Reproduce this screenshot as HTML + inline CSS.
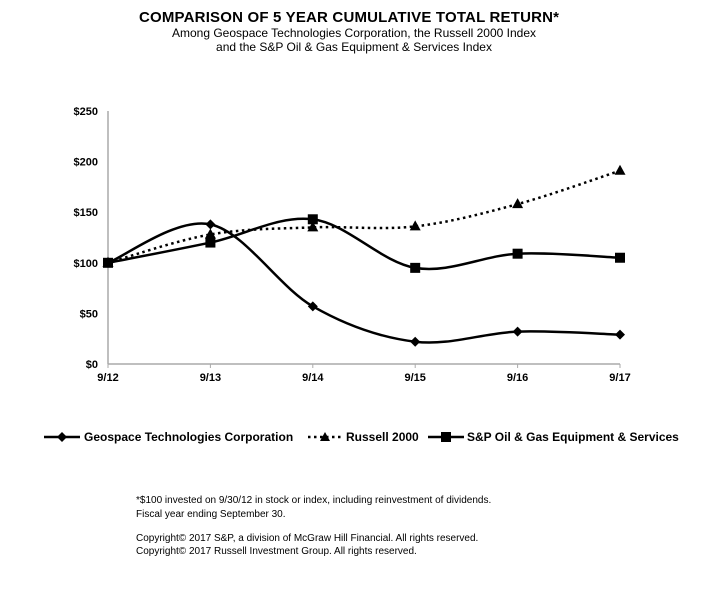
<!DOCTYPE html>
<html><head><meta charset="utf-8"><style>
body{margin:0;background:#fff;width:709px;height:589px;overflow:hidden;font-family:"Liberation Sans",Arial,sans-serif}
svg{position:absolute;left:0;top:0}
</style></head><body>
<svg width="709" height="589" id="c">
<text x="349" y="22" text-anchor="middle" font-size="15" font-weight="bold" textLength="420">COMPARISON OF 5 YEAR CUMULATIVE TOTAL RETURN*</text>
<text x="354" y="37" text-anchor="middle" font-size="12">Among Geospace Technologies Corporation, the Russell 2000 Index</text>
<text x="354" y="51" text-anchor="middle" font-size="12">and the S&amp;P Oil &amp; Gas Equipment &amp; Services Index</text>
<g id="axes"></g><g id="series"></g>
<g font-size="12" font-weight="bold">
<g>
<line x1="44" y1="437" x2="80" y2="437" stroke="#000" stroke-width="2.5"/><path d="M62 432L67 437L62 442L57 437Z"/>
<text x="84" y="441">Geospace Technologies Corporation</text></g>
<g>
<line x1="308" y1="437" x2="342" y2="437" stroke="#000" stroke-width="2.5" stroke-dasharray="2.5,3.5"/><path d="M325 432L330 441L320 441Z"/>
<text x="346" y="441">Russell 2000</text></g>
<g>
<line x1="428" y1="437" x2="464" y2="437" stroke="#000" stroke-width="2.5"/><rect x="441" y="432" width="10" height="10"/>
<text x="467" y="441">S&amp;P Oil &amp; Gas Equipment &amp; Services</text></g>
</g>
<g font-size="10">
<text x="136" y="503">*$100 invested on 9/30/12 in stock or index, including reinvestment  of dividends.</text>
<text x="136" y="517">Fiscal year ending September 30.</text>
<text x="136" y="541">Copyright© 2017 S&amp;P, a division of McGraw Hill Financial. All rights reserved.</text>
<text x="136" y="554">Copyright© 2017 Russell Investment Group. All rights reserved.</text>
</g>
</svg>
<script>
const categories=["9/12","9/13","9/14","9/15","9/16","9/17"];
const geospace=[100,138,57,22,32,29];
const russell=[100,128,135,136,158,191];
const spOilGas=[100,120,143,95,109,105];
const yTicks=[0,50,100,150,200,250];
const yLabels=["$0","$50","$100","$150","$200","$250"];
const NS="http://www.w3.org/2000/svg";
const X0=108,X1=620,Y0=364,Y1=111;
const xs=i=>X0+(X1-X0)*i/(categories.length-1);
const ys=v=>Y0-(Y0-Y1)*v/250;
function mk(t,a,p){const e=document.createElementNS(NS,t);for(const k in a)e.setAttribute(k,a[k]);p.appendChild(e);return e;}
const ax=document.getElementById('axes');
mk('line',{x1:X0,y1:Y1,x2:X0,y2:Y0,stroke:'#aaa','stroke-width':1.5},ax);
mk('line',{x1:X0,y1:Y0,x2:X1,y2:Y0,stroke:'#aaa','stroke-width':1.5},ax);
yTicks.forEach((v,i)=>{const t=mk('text',{x:X0-10,y:ys(v)+4,'text-anchor':'end','font-size':11,'font-weight':'bold'},ax);t.textContent=yLabels[i];

});
categories.forEach((c,i)=>{mk('line',{x1:xs(i),y1:Y0,x2:xs(i),y2:Y0+4,stroke:'#aaa'},ax);
const t=mk('text',{x:xs(i),y:Y0+17,'text-anchor':'middle','font-size':11,'font-weight':'bold'},ax);t.textContent=c;

});
function smooth(vals){const p=vals.map((v,i)=>[xs(i),ys(v)]);let d=`M${p[0][0]},${p[0][1]}`;
for(let i=0;i<p.length-1;i++){const a=p[Math.max(0,i-1)],b=p[i],c=p[i+1],e=p[Math.min(p.length-1,i+2)];
const c1=[b[0]+(c[0]-a[0])/6,b[1]+(c[1]-a[1])/6],c2=[c[0]-(e[0]-b[0])/6,c[1]-(e[1]-b[1])/6];
d+=`C${c1[0]},${c1[1]} ${c2[0]},${c2[1]} ${c[0]},${c[1]}`;}return d;}
const sg=document.getElementById('series');
function series(vals,name,dash,marker){const g=mk('g',{},sg);


const a={d:smooth(vals),fill:'none',stroke:'#000','stroke-width':2.5};if(dash)a['stroke-dasharray']=dash;mk('path',a,g);
vals.forEach((v,i)=>{const x=xs(i),y=ys(v);let m;
if(marker==='d')m=mk('path',{d:`M${x} ${y-5}L${x+5} ${y}L${x} ${y+5}L${x-5} ${y}Z`},g);
else if(marker==='t')m=mk('path',{d:`M${x} ${y-6}L${x+5.5} ${y+4}L${x-5.5} ${y+4}Z`},g);
else m=mk('rect',{x:x-5,y:y-5,width:10,height:10},g);

});}
series(russell,'series-russell-2000','2.5,3.5','t');
series(spOilGas,'series-sp-oil-gas','', 's');
series(geospace,'series-geospace','', 'd');
</script>
</body></html>
